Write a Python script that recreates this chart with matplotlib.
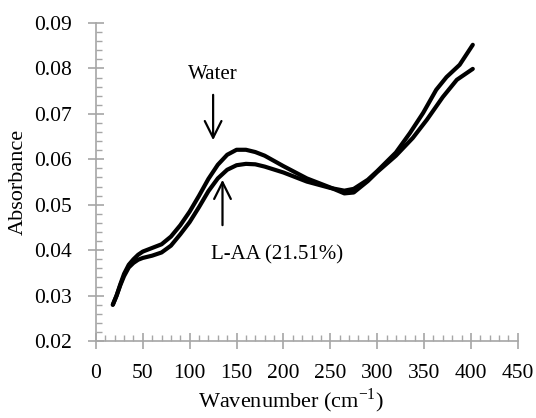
import matplotlib.pyplot as plt
from matplotlib.ticker import MultipleLocator

# values
wn_water = [18, 22, 26, 30, 35, 40, 45, 50, 60, 70, 80, 90, 100, 110, 120, 130, 140,
            150, 160, 170, 180, 200, 225, 250, 265, 275, 290, 300, 320, 338, 353, 370, 385, 402]
abs_water = [0.0280, 0.0300, 0.0325, 0.0348, 0.0368, 0.0380, 0.0390, 0.0397, 0.0405, 0.0413,
             0.0430, 0.0455, 0.0485, 0.0520, 0.0557, 0.0588, 0.0610, 0.0621, 0.0621, 0.0616,
             0.0608, 0.0585, 0.0558, 0.0538, 0.0525, 0.0527, 0.0552, 0.0572, 0.0608, 0.0647,
             0.0687, 0.0737, 0.0775, 0.0799]

wn_laa = [18, 22, 26, 30, 35, 40, 45, 50, 60, 70, 80, 90, 100, 110, 120, 130, 140,
          150, 160, 170, 180, 200, 225, 250, 265, 275, 290, 300, 320, 335, 349, 363, 374, 388, 402]
abs_laa = [0.0280, 0.0300, 0.0323, 0.0343, 0.0362, 0.0372, 0.0379, 0.0383, 0.0388, 0.0395,
           0.0410, 0.0435, 0.0462, 0.0495, 0.0530, 0.0558, 0.0577, 0.0587, 0.0590, 0.0589,
           0.0584, 0.0571, 0.0551, 0.0537, 0.0531, 0.0535, 0.0555, 0.0574, 0.0615, 0.0658,
           0.0702, 0.0753, 0.0781, 0.0808, 0.0852]

plt.rcParams['font.family'] = ['Liberation Serif', 'DejaVu Serif']
plt.rcParams['mathtext.fontset'] = 'custom'
plt.rcParams['mathtext.rm'] = 'Liberation Serif'

fig = plt.figure(figsize=(5.36, 4.18), dpi=100)
ax = fig.add_axes([0.179, 0.184, 0.787, 0.761])

ax.plot(wn_water, abs_water, color='black', lw=3, solid_capstyle='round')
ax.plot(wn_laa, abs_laa, color='black', lw=3, solid_capstyle='round')

ax.set_xlim(0, 450)
ax.set_ylim(0.02, 0.09)
ax.xaxis.set_major_locator(MultipleLocator(50))
ax.xaxis.set_minor_locator(MultipleLocator(10))
ax.yaxis.set_major_locator(MultipleLocator(0.01))
ax.yaxis.set_minor_locator(MultipleLocator(0.002))
ax.yaxis.set_major_formatter(plt.FormatStrFormatter('%.2f'))

for s in ['top', 'right']:
    ax.spines[s].set_visible(False)
for s in ['left', 'bottom']:
    ax.spines[s].set_color('#a6a6a6')
    ax.spines[s].set_linewidth(1.2)
ax.tick_params(which='major', direction='inout', length=11, width=1.2, color='#a6a6a6',
               labelsize=15.5)
ax.tick_params(axis='y', which='major', pad=12)
ax.tick_params(axis='x', which='major', pad=11)
ax.tick_params(which='minor', direction='in', length=4, width=1, color='#a6a6a6')

# x label placed by hand, it sits a bit left of the axis centre and close to the bottom edge
fig.text(0.543, 0.026, r'Wavenumber (cm$^{\mathrm{-1}}$)', fontsize=16,
         ha='center', va='baseline')
ax.set_ylabel('Absorbance', fontsize=16, labelpad=4)

# arrows and labels
ax.annotate('', xy=(125, 0.0636), xytext=(125, 0.0748),
            arrowprops=dict(arrowstyle='->', lw=1.6, color='black', mutation_scale=30))
ax.text(125, 0.0786, 'Water', ha='center', va='center', fontsize=15)
ax.annotate('', xy=(135, 0.0561), xytext=(135, 0.0449),
            arrowprops=dict(arrowstyle='->', lw=1.6, color='black', mutation_scale=30))
ax.text(123, 0.0389, 'L-AA (21.51%)', ha='left', va='center', fontsize=15)

plt.savefig('out.png', dpi=100)
